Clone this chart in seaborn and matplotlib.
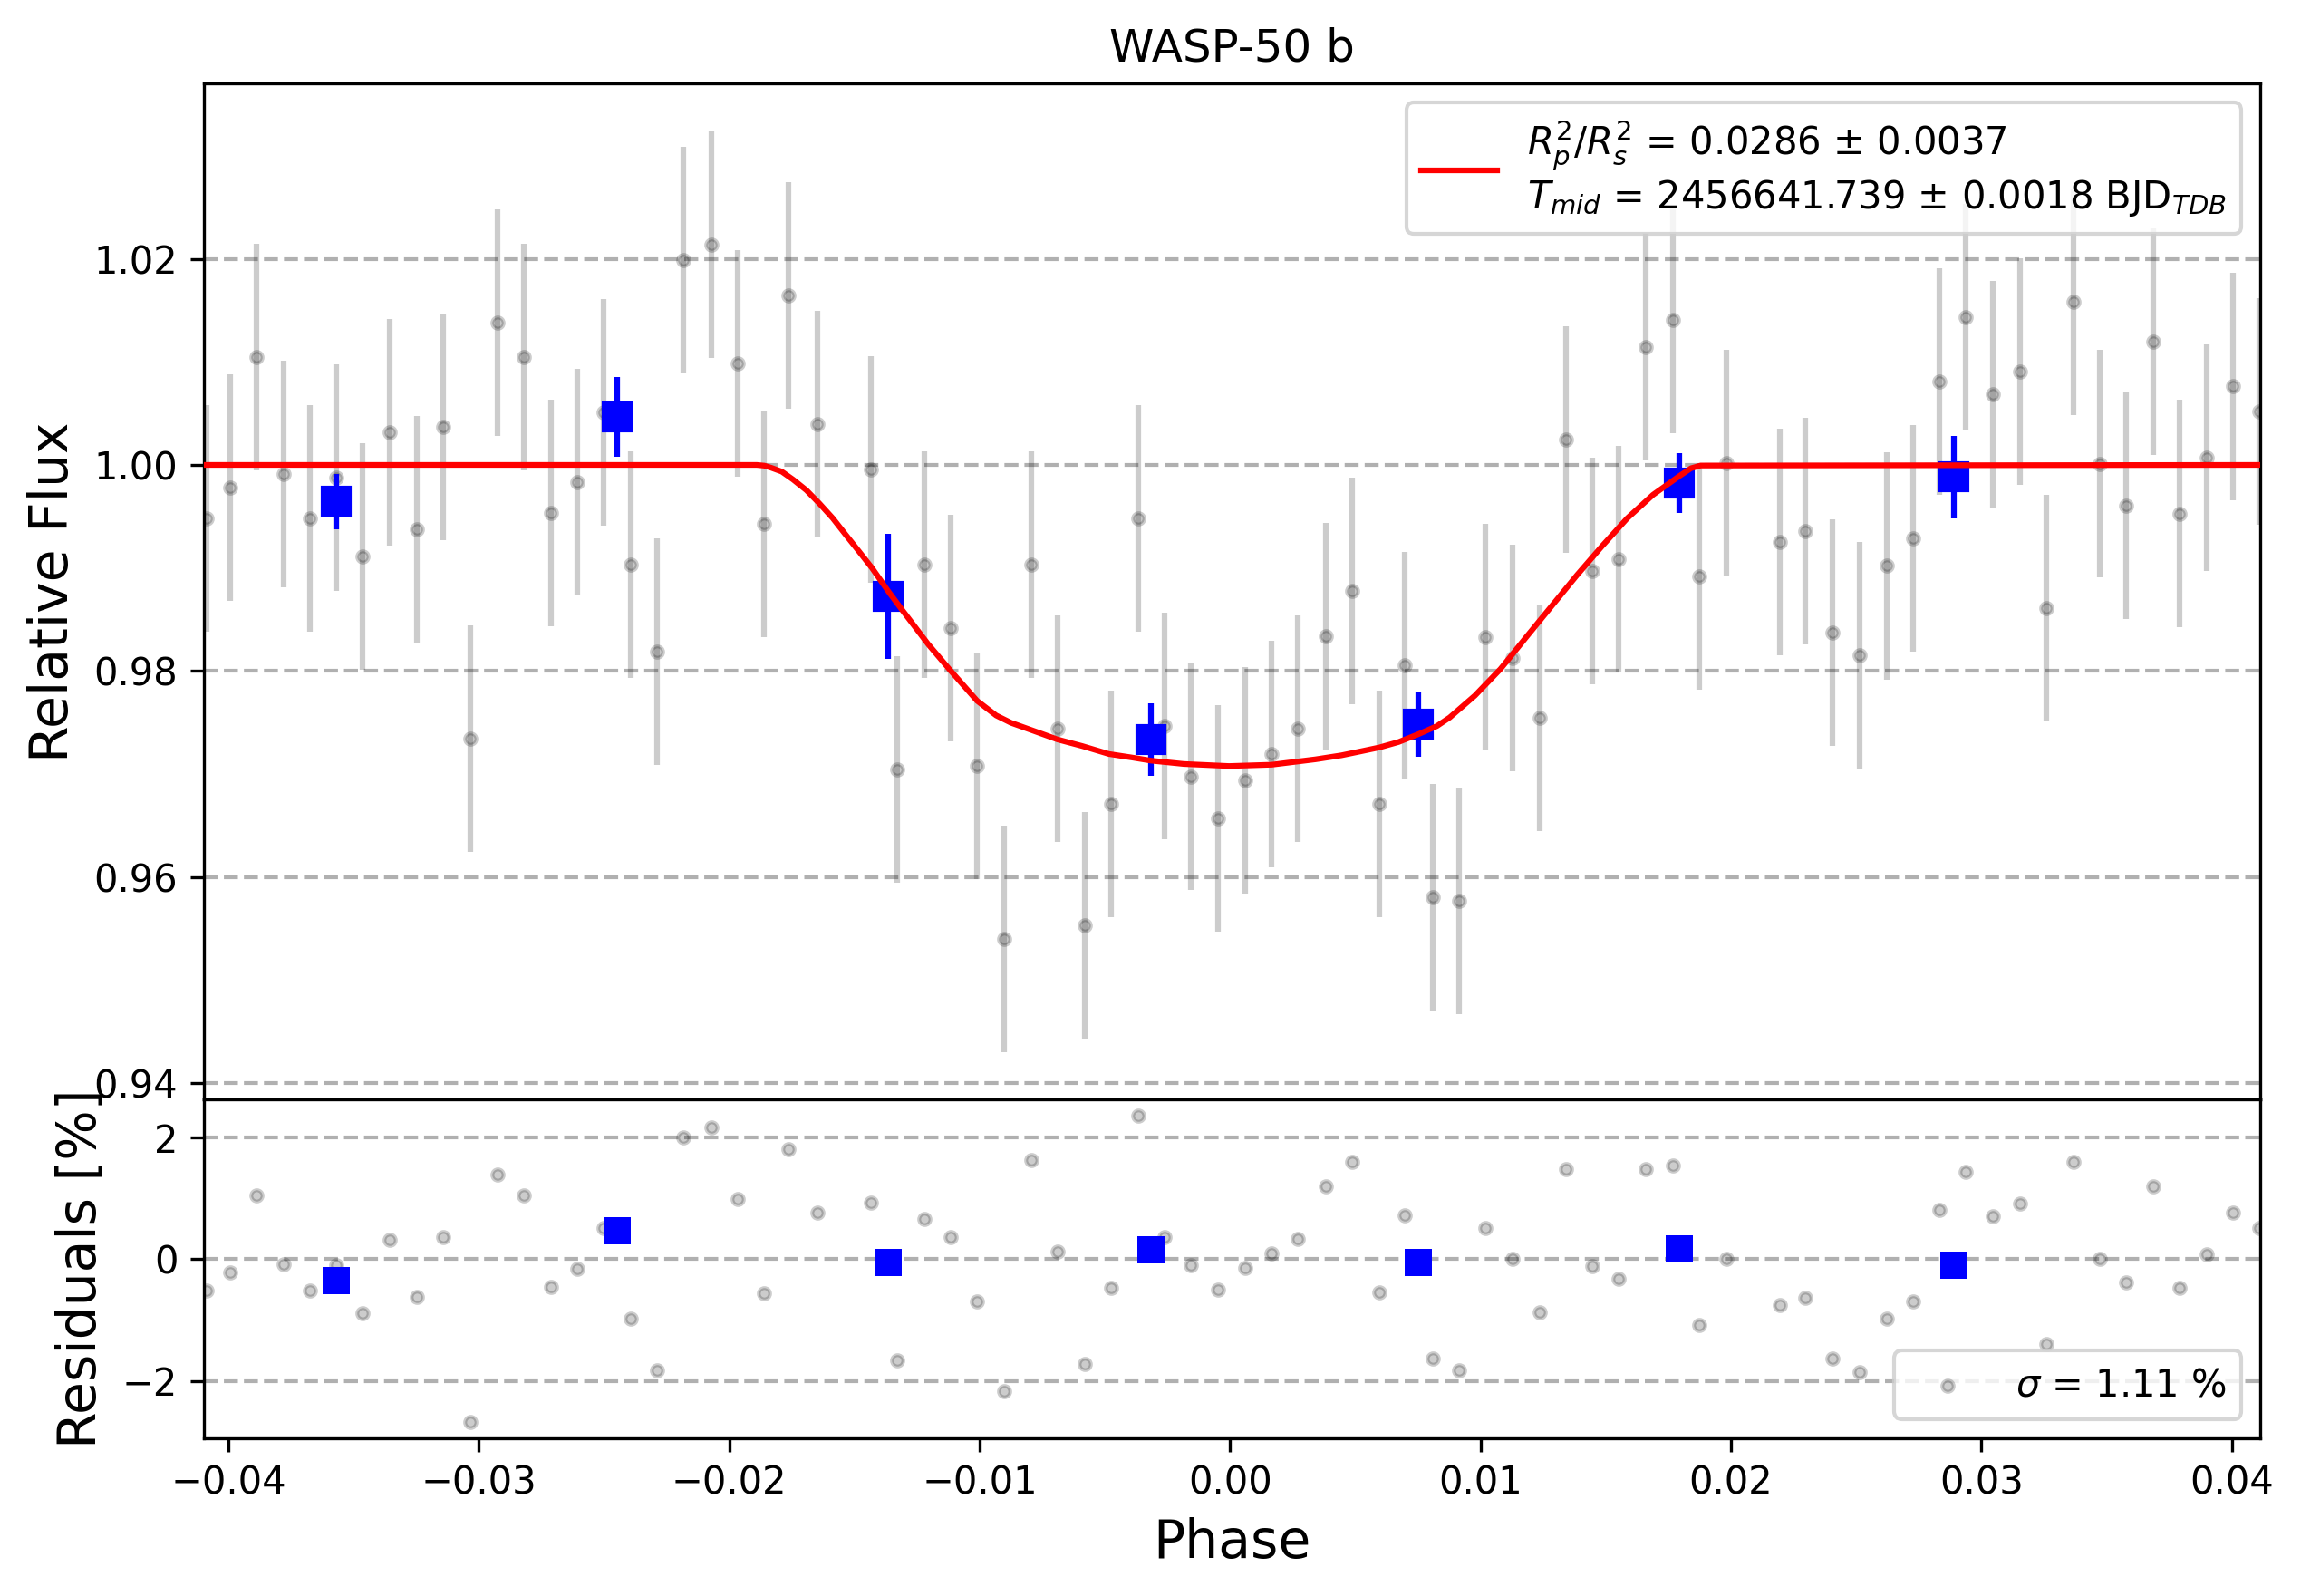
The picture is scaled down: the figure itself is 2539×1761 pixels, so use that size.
import matplotlib
matplotlib.use("Agg")
import matplotlib.pyplot as plt
import seaborn as sns

# light curve
phase = [-0.04087, -0.03994, -0.03889, -0.03781, -0.03676, -0.03568, -0.03463, -0.03354, -0.03249, -0.03141,
         -0.03034, -0.02926, -0.02821, -0.02713, -0.02608, -0.02502, -0.02394, -0.02287, -0.02182, -0.02072,
         -0.01967, -0.01860, -0.01765, -0.01647, -0.01434, -0.01328, -0.01219, -0.01115, -0.01010, -0.00901,
         -0.00792, -0.00689, -0.00579, -0.00474, -0.00367, -0.00261, -0.00155, -0.00048, 0.00059, 0.00167,
         0.00272, 0.00381, 0.00486, 0.00595, 0.00699, 0.00808, 0.00913, 0.01020, 0.01127, 0.01235,
         0.01340, 0.01448, 0.01553, 0.01661, 0.01768, 0.01873, 0.01981, 0.02194, 0.02298, 0.02406,
         0.02513, 0.02621, 0.02726, 0.02833, 0.02939, 0.03047, 0.03154, 0.03260, 0.03367, 0.03474,
         0.03579, 0.03688, 0.03792, 0.03900, 0.04007, 0.04110]

flux = [0.99484, 0.99781, 1.01045, 0.99910, 0.99484, 0.99877, 0.99110, 1.00316, 0.99374, 1.00368,
        0.97342, 1.01381, 1.01045, 0.99535, 0.99832, 1.00510, 0.99032, 0.98187, 1.01987, 1.02142,
        1.00987, 0.99426, 1.01645, 1.00394, 0.99955, 0.97045, 0.99032, 0.98413, 0.97077, 0.95400,
        0.99032, 0.97439, 0.95529, 0.96710, 0.99477, 0.97465, 0.96974, 0.96568, 0.96935, 0.97194,
        0.97439, 0.98335, 0.98774, 0.96710, 0.98052, 0.95806, 0.95768, 0.98329, 0.98129, 0.97548,
        1.00245, 0.98974, 0.99084, 1.01148, 1.01406, 0.98916, 1.00019, 0.99252, 0.99355, 0.98368,
        0.98148, 0.99019, 0.99290, 1.00806, 1.01432, 1.00690, 1.00910, 0.98606, 1.01581, 1.00013,
        0.99606, 1.01200, 0.99529, 1.00071, 1.00761, 1.00516]

flux_err = 0.011

resid = [-0.515, -0.218, 1.054, -0.089, -0.520, -0.099, -0.891, 0.327, -0.619, 0.371,
         -2.668, 1.391, 1.054, -0.460, -0.163, 0.515, -0.980, -1.822, 2.005, 2.163,
         0.995, -0.564, 1.812, 0.772, 0.936, -1.663, 0.668, 0.371, -0.698, -2.168,
         1.634, 0.124, -1.723, -0.475, 2.361, 0.371, -0.104, -0.505, -0.134, 0.104,
         0.342, 1.203, 1.599, -0.550, 0.728, -1.629, -1.822, 0.520, 0.010, -0.876,
         1.485, -0.114, -0.327, 1.485, 1.545, -1.084, 0.010, -0.752, -0.639, -1.629,
         -1.851, -0.980, -0.698, 0.817, 1.441, 0.703, 0.921, -1.391, 1.594, 0.010,
         -0.386, 1.203, -0.475, 0.079, 0.772, 0.520]

# binned points
bin_phase = [-0.03568, -0.02446, -0.01365, -0.00315, 0.00753, 0.01793, 0.02889]
bin_flux = [0.99645, 1.00465, 0.98723, 0.97335, 0.97484, 0.99826, 0.99884]
bin_err = [0.0027, 0.0039, 0.0061, 0.0035, 0.0032, 0.0029, 0.0040]
bin_resid = [-0.356, 0.475, -0.059, 0.163, -0.045, 0.178, -0.104]

# transit model
model_phase = [-0.0410, -0.0189, -0.01860, -0.01834, -0.01790, -0.01745, -0.01692, -0.01640, -0.01587,
               -0.01535, -0.01482, -0.01430, -0.01365, -0.01310, -0.01205, -0.01115, -0.01010, -0.00934,
               -0.00875, -0.00785, -0.00689, -0.00590, -0.00484, -0.00395, -0.00315, -0.00185, -0.00004,
               0.00167, 0.00341, 0.00445, 0.00521, 0.00597, 0.00673, 0.00753, 0.00826, 0.00877,
               0.00978, 0.01080, 0.01181, 0.01283, 0.01385, 0.01486, 0.01587, 0.01689, 0.01793,
               0.01841, 0.01879, 0.0411]
model_flux = [1.0, 1.0, 0.99993, 0.99974, 0.99935, 0.99858, 0.99755, 0.99626, 0.99484,
              0.99323, 0.99161, 0.99000, 0.98774, 0.98594, 0.98258, 0.98000, 0.97710, 0.97568,
              0.97497, 0.97419, 0.97335, 0.97271, 0.97194, 0.97161, 0.97129, 0.97097, 0.97077,
              0.97090, 0.97142, 0.97181, 0.97219, 0.97258, 0.97310, 0.97387, 0.97465, 0.97548,
              0.97761, 0.98019, 0.98323, 0.98626, 0.98929, 0.99213, 0.99484, 0.99710, 0.99890,
              0.99968, 0.99994, 1.0]

fit_label = ("$R_p^2/R_s^2$ = 0.0286 \u00b1 0.0037\n"
             "$T_{mid}$ = 2456641.739 \u00b1 0.0018 BJD$_{TDB}$")
sigma_label = r"$\sigma$ = 1.11 %"

fig, (ax1, ax2) = plt.subplots(2, 1, figsize=(2539 / 300, 1761 / 300), sharex=True,
                               gridspec_kw={"height_ratios": [3, 1], "hspace": 0})
fig.subplots_adjust(left=0.0888, right=0.9823, top=0.9475, bottom=0.0990)

#.......top panel.......
ax1.errorbar(phase, flux, yerr=flux_err, fmt="o", color="black", alpha=0.2, ms=3, zorder=2)
ax1.errorbar(bin_phase, bin_flux, yerr=bin_err, fmt="s", color="blue", ms=7, zorder=3)
sns.lineplot(x=model_phase, y=model_flux, ax=ax1, color="red", lw=1.5, sort=False,
             estimator=None, label=fit_label, zorder=4)
ax1.legend(loc="upper right")
ax1.set_ylim(0.9384, 1.0370)
ax1.set_yticks([0.94, 0.96, 0.98, 1.00, 1.02])
ax1.grid(axis="y", ls="--", lw=1, color="#b0b0b0")
ax1.grid(axis="x", visible=False)
ax1.set_ylabel("Relative Flux", fontsize=14)
ax1.set_title("WASP-50 b", fontsize=12)

#.......residuals.......
sns.scatterplot(x=phase, y=resid, ax=ax2, color="black", edgecolor="black", alpha=0.2,
                s=9, linewidth=1, label=sigma_label, zorder=2)
sns.scatterplot(x=bin_phase, y=bin_resid, ax=ax2, color="blue", marker="s", s=49,
                linewidth=0, zorder=3)
ax2.legend(loc="lower right")
ax2.set_ylim(-2.933, 2.624)
ax2.set_yticks([-2, 0, 2])
ax2.grid(axis="y", ls="--", lw=1, color="#b0b0b0")
ax2.grid(axis="x", visible=False)
ax2.set_xlim(-0.04096, 0.04114)
ax2.set_xticks([-0.04, -0.03, -0.02, -0.01, 0.0, 0.01, 0.02, 0.03, 0.04])
ax2.set_ylabel("Residuals [%]", fontsize=14)
ax2.set_xlabel("Phase", fontsize=14)

fig.savefig("out.png", dpi=300)
